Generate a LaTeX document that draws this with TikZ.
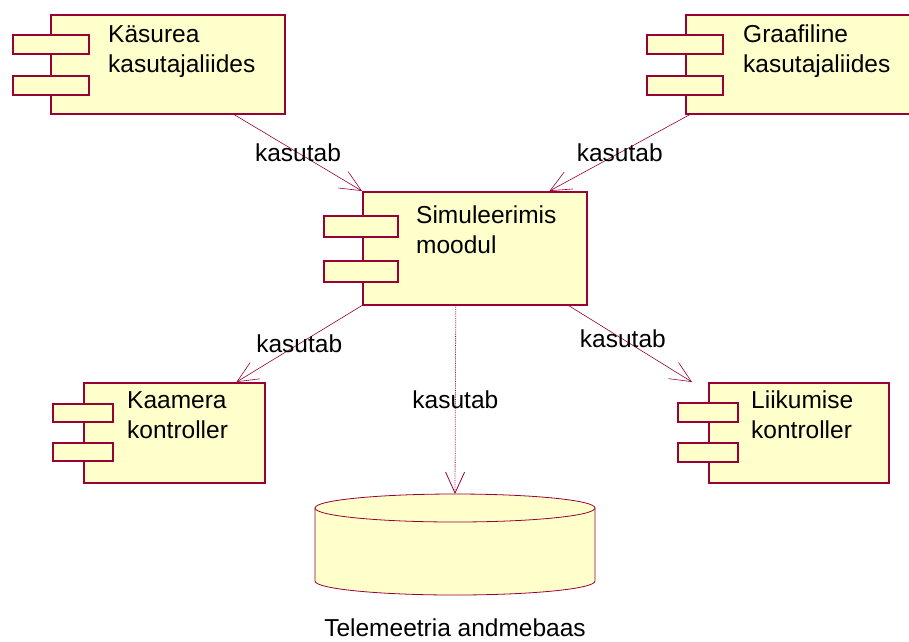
\documentclass[tikz,border=0pt]{standalone}
\usepackage{fontspec}
\setmainfont{Liberation Sans}
\usetikzlibrary{arrows.meta}

\definecolor{umlred}{HTML}{990033}
\definecolor{umlfill}{HTML}{FFFFCC}

\tikzset{
  comp/.style={draw=umlred, fill=umlfill, line width=1.5pt, rectangle,
    inner sep=0pt, anchor=north west},
  tabbox/.style={draw=umlred, fill=umlfill, line width=1.5pt, rectangle,
    inner sep=0pt, anchor=north west, minimum height=19pt},
  compname/.style={anchor=north west, align=left, inner sep=0pt,
    font=\fontsize{24.5}{30}\selectfont},
  uses/.style={draw=umlred, line width=0.6pt,
    -{Straight Barb[length=21pt,width=19pt]}},
  usetext/.style={inner sep=0pt, font=\fontsize{24.5}{30}\selectfont}
}

\begin{document}
\begin{tikzpicture}[x=1pt,y=-1pt]
    \useasboundingbox (0,0) rectangle (909,641);
    \clip (0,0) rectangle (909,641);

    % komponendid
    \node[comp, minimum width=234pt, minimum height=99pt] (kasurea) at (50,14) {};
    \node[tabbox, minimum width=76pt] (kasureaA) at (12,34) {};
    \node[tabbox, minimum width=76pt] (kasureaB) at (12,75) {};
    \node[compname] (kasureaname) at (108,25) {Käsurea\\kasutajaliides};

    \node[comp, minimum width=234pt, minimum height=99pt] (graafiline) at (685,14) {};
    \node[tabbox, minimum width=76pt] (graafilineA) at (646,34) {};
    \node[tabbox, minimum width=76pt] (graafilineB) at (646,75) {};
    \node[compname] (graafilinename) at (743,25) {Graafiline\\kasutajaliides};

    \node[comp, minimum width=224pt, minimum height=113pt] (sim) at (362,191) {};
    \node[tabbox, minimum width=74pt, minimum height=21pt] (simA) at (323,215) {};
    \node[tabbox, minimum width=74pt, minimum height=21pt] (simB) at (323,260) {};
    \node[compname] (simname) at (416,206) {Simuleerimis\\moodul};

    \node[comp, minimum width=181pt, minimum height=100pt] (kaamera) at (83,382) {};
    \node[tabbox, minimum width=60pt, minimum height=18pt] (kaameraA) at (52,403) {};
    \node[tabbox, minimum width=60pt, minimum height=18pt] (kaameraB) at (52,442) {};
    \node[compname] (kaameraname) at (127,391) {Kaamera\\kontroller};

    \node[comp, minimum width=180pt, minimum height=100pt] (liikumine) at (708,382) {};
    \node[tabbox, minimum width=60pt, minimum height=19pt] (liikumineA) at (677,402) {};
    \node[tabbox, minimum width=60pt, minimum height=19pt] (liikumineB) at (677,442) {};
    \node[compname] (liikuminename) at (751,391) {Liikumise\\kontroller};

    % andmebaas
    \path[draw=umlred, fill=umlfill, line width=0.8pt]
      (315,508) -- (315,581) arc[start angle=180, end angle=0, x radius=140, y radius=14]
      -- (595,508);
    \path[draw=umlred, fill=umlfill, line width=0.8pt]
      (455,508) ellipse[x radius=140, y radius=14];
    \coordinate (db) at (455,494);
    \node[usetext, anchor=base] (dbname) at (455,636) {Telemeetria andmebaas};

    % seosed
    \draw[uses] ([xshift=184pt]kasurea.south west) -- (sim.north west)
      node[usetext, midway] {kasutab};
    \draw[uses] ([xshift=5pt]graafiline.south west) -- ([xshift=-38pt]sim.north east)
      node[usetext, midway] {kasutab};
    \draw[uses] (sim.south west) -- ([xshift=-29pt]kaamera.north east)
      node[usetext, midway] {kasutab};
    \draw[uses] ([xshift=-19pt]sim.south east) -- ([xshift=-16pt]liikumine.north west)
      node[usetext, pos=0.44] {kasutab};
    \draw[uses, line width=0.8pt, densely dotted] ([xshift=-19pt]sim.south) -- (db)
      node[usetext, midway] {kasutab};
\end{tikzpicture}
\end{document}
